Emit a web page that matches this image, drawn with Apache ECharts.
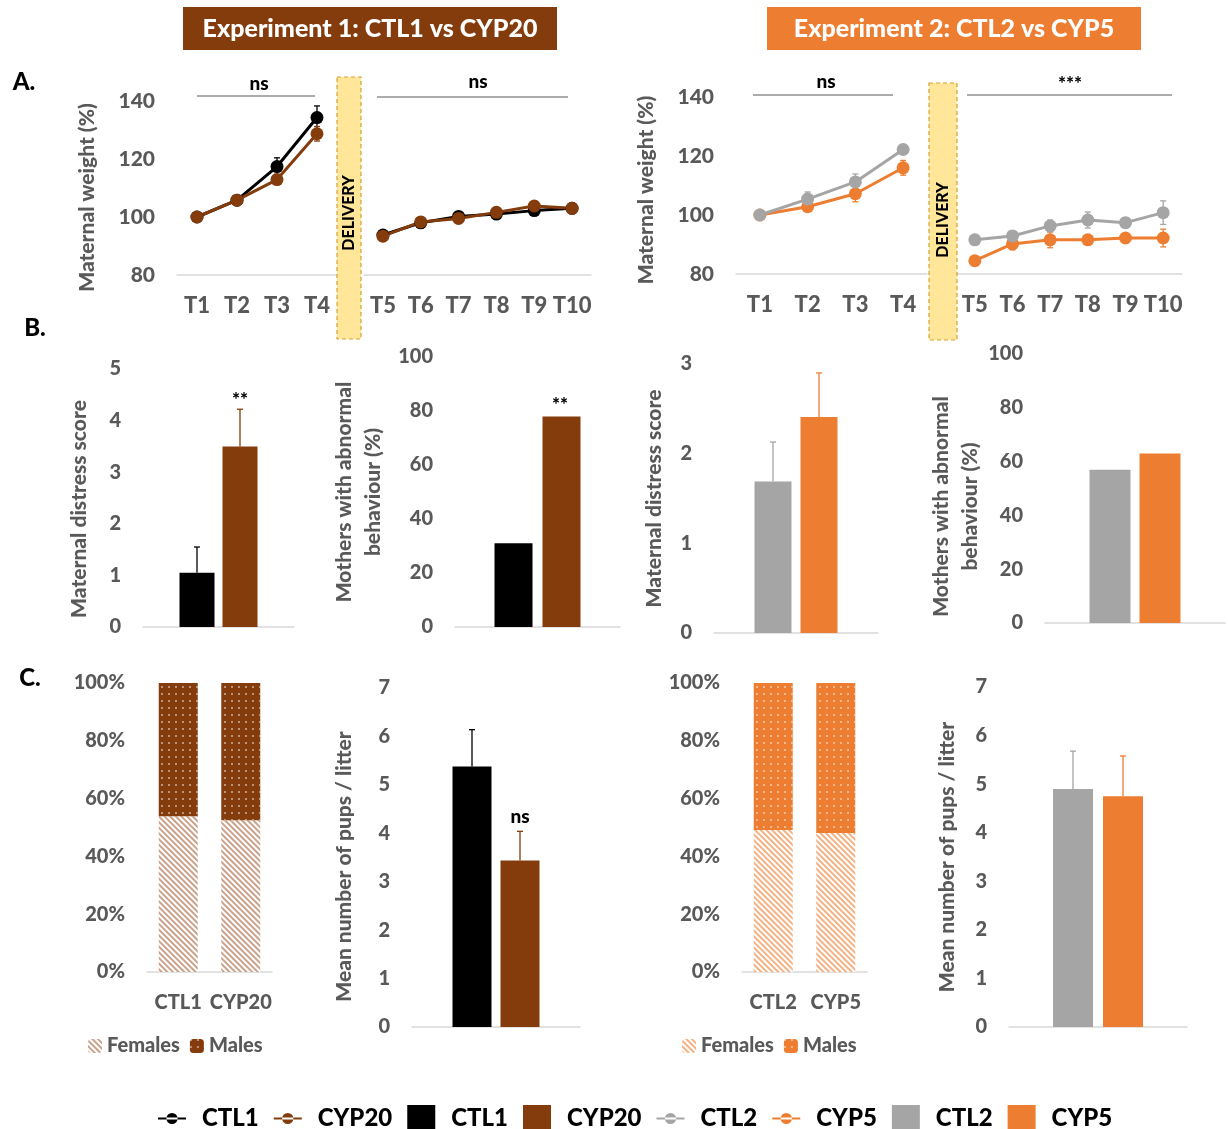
<!DOCTYPE html>
<html><head><meta charset="utf-8">
<script src="https://cdn.jsdelivr.net/npm/echarts@6/dist/echarts.min.js"></script>
<style>html,body{margin:0;padding:0;background:#fff}#c{width:1228px;height:1129px}</style>
</head><body><div id="c"></div>
<script>
// ---------------- DATA ----------------
const timesBefore = ['T1','T2','T3','T4'];
const timesAfter = ['T5','T6','T7','T8','T9','T10'];
const ctl1Weight    = [100, 105.8, 117.4, 134.3, 93.8, 98.0, 100.2, 101.0, 102.2, 103.0];
const ctl1WeightErr = [1, 1.5, 3, 4, 1, 1.5, 1.5, 1.5, 1, 1.5];
const cyp20Weight    = [100, 105.8, 112.9, 128.7, 93.4, 98.3, 99.5, 101.6, 103.8, 103.0];
const cyp20WeightErr = [1, 1.5, 1.5, 2.5, 1, 1, 1.5, 1.5, 1.5, 1.5];
const ctl2Weight    = [100, 105.4, 111.2, 122.2, 91.6, 92.9, 96.3, 98.3, 97.4, 100.8];
const ctl2WeightErr = [1, 2.4, 2.7, 1.5, 1.5, 1.5, 2, 2.7, 1, 4];
const cyp5Weight    = [100, 102.8, 107.2, 116.0, 84.5, 90.2, 91.6, 91.6, 92.2, 92.2];
const cyp5WeightErr = [1, 1, 2.7, 2.5, 1, 2, 2.7, 1, 1, 3];

const exp1Groups = ['CTL1', 'CYP20'];
const exp2Groups = ['CTL2', 'CYP5'];
const exp1Distress = [1.05, 3.5];
const exp1DistressErr = [0.5, 0.72];
const exp1Abnormal = [31, 78];
const exp2Distress = [1.69, 2.41];
const exp2DistressErr = [0.44, 0.49];
const exp2Abnormal = [57, 63];
const exp1Pups = [5.38, 3.44];
const exp1PupsErr = [0.76, 0.6];
const exp2Pups = [4.9, 4.75];
const exp2PupsErr = [0.78, 0.83];
const exp1Females = [53.9, 52.5];
const exp1Males = [46.1, 47.5];
const exp2Females = [49.1, 48.1];
const exp2Males = [50.9, 51.9];
const weightTicks = [80, 140, 20];

// ---------------- STYLE ----------------
const FONT = 'Lato';
const W = 900;
const TICK = '#595959';
const BASE = '#D9D9D9';
const BROWN = '#843C0C';
const ORANGE = '#ED7D31';
const GRAY = '#A5A5A5';
const BLACK = '#000000';

const grids = [
  {left:177, top:101, width:160, height:174},   // 0 A1 before
  {left:364, top:101, width:227, height:174},   // 1 A1 after
  {left:736, top:97,  width:191, height:177},   // 2 A2 before
  {left:956, top:97,  width:226, height:177},   // 3 A2 after
  {left:143, top:369, width:151, height:258},   // 4 B1
  {left:455, top:357, width:165, height:270},   // 5 B2
  {left:714, top:364, width:164, height:269},   // 6 B3
  {left:1045,top:354, width:180, height:269},   // 7 B4
  {left:147, top:683, width:125, height:289},   // 8 C1
  {left:412, top:688, width:168, height:339},   // 9 C2
  {left:742, top:683, width:125, height:289},   // 10 C3
  {left:1009,top:687, width:178, height:340}    // 11 C4
];

function xCat(i, data, showLabel, fontSize, margin) {
  return {type:'category', gridIndex:i, data:data,
    axisLine:{lineStyle:{color:BASE, width:1.5}}, axisTick:{show:false},
    axisLabel:{show:showLabel, color:TICK, fontWeight:W, fontFamily:FONT, fontSize:fontSize||20, margin:margin||18, interval:0},
    splitLine:{show:false}};
}
function yVal(i, min, max, interval, fontSize, name, nameGap, pad, fmt) {
  const ax = {type:'value', gridIndex:i, min:min, max:max, interval:interval,
    axisLine:{show:false}, axisTick:{show:false}, splitLine:{show:false},
    axisLabel:{color:TICK, fontWeight:W, fontFamily:FONT, fontSize:fontSize, margin:22}};
  if (fmt) ax.axisLabel.formatter = fmt;
  if (name) {
    ax.name = name; ax.nameLocation = 'middle'; ax.nameGap = nameGap;
    ax.nameTextStyle = {color:TICK, fontWeight:W, fontFamily:FONT, fontSize:21, lineHeight:29,
      align:'center', padding:[0, pad||0, 0, 0]};
  }
  return ax;
}

const xAxes = [
  xCat(0, timesBefore, true, 22, 20), xCat(1, timesAfter, true, 22, 20),
  xCat(2, timesBefore, true, 22, 20), xCat(3, timesAfter, true, 22, 20),
  xCat(4, [''], false), xCat(5, [''], false), xCat(6, [''], false), xCat(7, [''], false),
  xCat(8, exp1Groups, true, 20, 21), xCat(9, [''], false),
  xCat(10, exp2Groups, true, 20, 21), xCat(11, [''], false)
];
const yAxes = [
  yVal(0, weightTicks[0], weightTicks[1], weightTicks[2], 21, 'Maternal weight (%)', 75, 19),
  Object.assign(yVal(1, weightTicks[0], weightTicks[1], weightTicks[2], 21), {show:false}),
  yVal(2, weightTicks[0], weightTicks[1], weightTicks[2], 21, 'Maternal weight (%)', 75, 9),
  Object.assign(yVal(3, weightTicks[0], weightTicks[1], weightTicks[2], 21), {show:false}),
  yVal(4, 0, 5, 1, 20, 'Maternal distress score', 49, 22),
  yVal(5, 0, 100, 20, 20, 'Mothers with abnormal\nbehaviour (%)', 67, 0),
  yVal(6, 0, 3, 1, 20, 'Maternal distress score', 45, 0),
  yVal(7, 0, 100, 20, 20, 'Mothers with abnormal\nbehaviour (%)', 56, 36),
  yVal(8, 0, 100, 20, 20, null, 0, 0, '{value}%'),
  yVal(9, 0, 7, 1, 20, 'Mean number of pups / litter', 53, 18),
  yVal(10, 0, 100, 20, 20, null, 0, 0, '{value}%'),
  yVal(11, 0, 7, 1, 20, 'Mean number of pups / litter', 47, 0)
];

// error bar custom series
function errSeries(axis, data, color, offset, both, cap) {
  return {type:'custom', xAxisIndex:axis, yAxisIndex:axis, silent:true, encode:{x:0, y:[1,2]},
    data:data, z:3,
    renderItem:function(params, api){
      const x = api.value(0);
      const lo = api.coord([x, api.value(1)]);
      const hi = api.coord([x, api.value(2)]);
      const cx = lo[0] + offset;
      const st = {stroke:color, lineWidth:1.3};
      const ch = [
        {type:'line', shape:{x1:cx, y1:lo[1], x2:cx, y2:hi[1]}, style:st},
        {type:'line', shape:{x1:cx-cap, y1:hi[1], x2:cx+cap, y2:hi[1]}, style:st}
      ];
      if (both) ch.push({type:'line', shape:{x1:cx-cap, y1:lo[1], x2:cx+cap, y2:lo[1]}, style:st});
      return {type:'group', children:ch};
    }};
}
function lineErrData(vals, errs, from, to) {
  const out = [];
  for (let i = from; i < to; i++) out.push([i - from, vals[i] - errs[i], vals[i] + errs[i]]);
  return out;
}
function lineSeries(name, axis, vals, color) {
  return {type:'line', name:name, xAxisIndex:axis, yAxisIndex:axis, data:vals,
    symbol:'circle', symbolSize:13, showSymbol:true, z:4,
    lineStyle:{color:color, width:3}, itemStyle:{color:color}};
}

const series = [];
[[0,0,4],[1,4,10]].forEach(function(p){
  series.push(errSeries(p[0], lineErrData(ctl1Weight, ctl1WeightErr, p[1], p[2]), BLACK, 0, true, 3));
  series.push(errSeries(p[0], lineErrData(cyp20Weight, cyp20WeightErr, p[1], p[2]), BROWN, 0, true, 3));
  series.push(lineSeries('CTL1', p[0], ctl1Weight.slice(p[1], p[2]), BLACK));
  series.push(lineSeries('CYP20', p[0], cyp20Weight.slice(p[1], p[2]), BROWN));
});
[[2,0,4],[3,4,10]].forEach(function(p){
  series.push(errSeries(p[0], lineErrData(ctl2Weight, ctl2WeightErr, p[1], p[2]), GRAY, 0, true, 3));
  series.push(errSeries(p[0], lineErrData(cyp5Weight, cyp5WeightErr, p[1], p[2]), ORANGE, 0, true, 3));
  series.push(lineSeries('CYP5', p[0], cyp5Weight.slice(p[1], p[2]), ORANGE));
  series.push(lineSeries('CTL2', p[0], ctl2Weight.slice(p[1], p[2]), GRAY));
});

function barPanel(axis, groups, colors, vals, errs, barW, gapPx) {
  for (let k = 0; k < 2; k++) {
    series.push({type:'bar', name:groups[k] + ' ', xAxisIndex:axis, yAxisIndex:axis,
      data:[vals[k]], barWidth:barW, barGap:(gapPx / barW * 100) + '%',
      itemStyle:{color:colors[k]}});
  }
  if (errs) {
    for (let k = 0; k < 2; k++) {
      const off = (k === 0 ? -1 : 1) * (barW + gapPx) / 2;
      series.push(errSeries(axis, [[0, vals[k], vals[k] + errs[k]]], colors[k], off, false, 3));
    }
  }
}
barPanel(4, exp1Groups, [BLACK, BROWN], exp1Distress, exp1DistressErr, 35, 8);
barPanel(5, exp1Groups, [BLACK, BROWN], exp1Abnormal, null, 38, 10);
barPanel(6, exp2Groups, [GRAY, ORANGE], exp2Distress, exp2DistressErr, 37, 9);
barPanel(7, exp2Groups, [GRAY, ORANGE], exp2Abnormal, null, 41, 9);
barPanel(9, exp1Groups, [BLACK, BROWN], exp1Pups, exp1PupsErr, 39, 9);
barPanel(11, exp2Groups, [GRAY, ORANGE], exp2Pups, exp2PupsErr, 40, 10);

function femaleStyle(c) {
  return {color:'#FFFFFF', decal:{symbol:'rect', dashArrayX:[1,0], dashArrayY:[1.2,1.8], rotation:Math.PI/4, color:c}};
}
function maleStyle(c) {
  return {color:c, decal:{symbol:'rect', symbolSize:1, dashArrayX:[1.5,4.5], dashArrayY:[1.5,4.5], color:'rgba(255,255,255,0.45)'}};
}
const fem1 = femaleStyle('rgba(150,70,25,0.5)');
const mal1 = maleStyle(BROWN);
const fem2 = femaleStyle('rgba(237,125,49,0.6)');
const mal2 = maleStyle(ORANGE);
series.push({type:'bar', name:'Females', stack:'s1', xAxisIndex:8, yAxisIndex:8, data:exp1Females, barWidth:39, itemStyle:fem1});
series.push({type:'bar', name:'Males', stack:'s1', xAxisIndex:8, yAxisIndex:8, data:exp1Males, barWidth:39, itemStyle:mal1});
series.push({type:'bar', name:'Females', stack:'s2', xAxisIndex:10, yAxisIndex:10, data:exp2Females, barWidth:39, itemStyle:fem2});
series.push({type:'bar', name:'Males', stack:'s2', xAxisIndex:10, yAxisIndex:10, data:exp2Males, barWidth:39, itemStyle:mal2});

// ---------------- ANNOTATIONS ----------------
function txt(x, y, s, size, color, rot) {
  return {type:'text', x:x, y:y, rotation:rot || 0, z:10,
    style:{text:s, fill:color || '#000', font:W + ' ' + size + 'px ' + FONT, align:'center', verticalAlign:'middle'}};
}
function hline(x1, x2, y) {
  return {type:'line', shape:{x1:x1, y1:y, x2:x2, y2:y}, style:{stroke:'#595959', lineWidth:1}, z:10};
}
const graphics = [
  {type:'rect', shape:{x:183, y:7, width:374, height:43}, style:{fill:BROWN}},
  txt(370, 29, 'Experiment 1: CTL1 vs CYP20', 25, '#fff'),
  {type:'rect', shape:{x:767, y:7, width:374, height:43}, style:{fill:ORANGE}},
  txt(954, 29, 'Experiment 2: CTL2 vs CYP5', 25, '#fff'),
  txt(24, 82, 'A.', 24), txt(35, 328, 'B.', 24), txt(30, 678, 'C.', 24),
  {type:'rect', shape:{x:337, y:77, width:24, height:262}, z:9,
    style:{fill:'#FFE699', stroke:'#D4A032', lineWidth:1.2, lineDash:[4,3]}},
  txt(349, 213, 'DELIVERY', 16, '#000', Math.PI / 2),
  {type:'rect', shape:{x:929, y:83, width:28, height:257}, z:9,
    style:{fill:'#FFE699', stroke:'#D4A032', lineWidth:1.2, lineDash:[4,3]}},
  txt(943, 220, 'DELIVERY', 16, '#000', Math.PI / 2),
  hline(197, 315, 96), txt(259, 84, 'ns', 19),
  hline(377, 568, 97), txt(478, 82, 'ns', 19),
  hline(753, 893, 95), txt(826, 82, 'ns', 19),
  hline(967, 1172, 95), txt(1070, 84, '***', 19),
  txt(240, 400, '**', 19), txt(560, 405, '**', 19), txt(520, 817, 'ns', 19)
];

const lineIcon = 'path://M0,11h30v2h-30z M9,12a6,6 0 1,0 12,0a6,6 0 1,0 -12,0z';
const option = {
  animation:false,
  textStyle:{fontFamily:FONT},
  grid:grids,
  xAxis:xAxes,
  yAxis:yAxes,
  legend:[
    {data:[
      {name:'CTL1', icon:lineIcon}, {name:'CYP20', icon:lineIcon},
      {name:'CTL1 ', icon:'rect'}, {name:'CYP20 ', icon:'rect'},
      {name:'CTL2', icon:lineIcon}, {name:'CYP5', icon:lineIcon},
      {name:'CTL2 ', icon:'rect'}, {name:'CYP5 ', icon:'rect'}],
     left:153, top:1100, itemWidth:28, itemHeight:27, itemGap:15, selectedMode:false,
     formatter:function(n){ return n.trim(); },
     textStyle:{fontFamily:FONT, fontWeight:W, fontSize:24, color:'#000', padding:[0,0,0,11]}},
    {data:['Females','Males'], left:83, top:1031, itemWidth:14, itemHeight:14, itemGap:10, selectedMode:false,
     textStyle:{fontFamily:FONT, fontWeight:W, fontSize:20, color:TICK}},
    {data:[{name:'Females', itemStyle:fem2}, {name:'Males', itemStyle:mal2}],
     left:677, top:1031, itemWidth:14, itemHeight:14, itemGap:10, selectedMode:false,
     textStyle:{fontFamily:FONT, fontWeight:W, fontSize:20, color:TICK}}
  ],
  graphic:graphics,
  series:series
};
const chart = echarts.init(document.getElementById('c'), null, {renderer:'canvas', width:1228, height:1129});
chart.setOption(option);
</script>
</body></html>
